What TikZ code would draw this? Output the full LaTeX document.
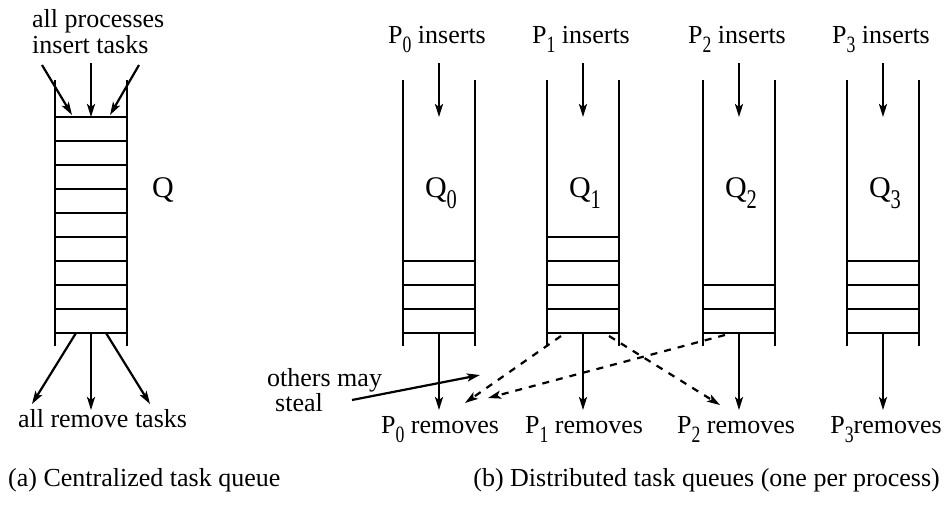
\documentclass[tikz,border=0pt]{standalone}
\usepackage{fontspec}
\setmainfont{Liberation Serif}
\usetikzlibrary{arrows.meta}
\newcommand{\psub}[1]{\raisebox{-0.38em}{\scalebox{0.68}[0.9]{#1}}}
\begin{document}
\begin{tikzpicture}[x=1pt,y=-1pt,
  wall/.style={line width=2.2pt},
  arr/.style={line width=2.2pt,-{Stealth[length=13pt,width=8pt,inset=3pt]}},
  dsh/.style={arr, dash pattern=on 7pt off 7pt},
  lbl/.style={font=\fontsize{26}{26}\selectfont, inner sep=0pt},
  qlbl/.style={font=\fontsize{30}{30}\selectfont, inner sep=0pt}]
\useasboundingbox (0,0) rectangle (949,504);

% ---------- (a) centralized queue ----------
\draw[wall] (55,80) -- (55,346);
\draw[wall] (127,80) -- (127,346);
\foreach \k in {0,...,9} \draw[wall] (55,117+24*\k) -- (127,117+24*\k);

\node[lbl, anchor=base west] (allp) at (32,27) {all processes};
\node[lbl, anchor=base west] (inst) at (32,53) {insert tasks};
\node[qlbl, anchor=base] (Q) at (163,197) {Q};
\node[lbl, anchor=base] (allr) at (102.5,427) {all remove tasks};

\coordinate (ia1) at (42,65);  \coordinate (ib1) at (72,115);
\coordinate (ia2) at (91,63);  \coordinate (ib2) at (91,117);
\coordinate (ia3) at (139,65); \coordinate (ib3) at (110,115);
\draw[arr] (ia1) -- (ib1);
\draw[arr] (ia2) -- (ib2);
\draw[arr] (ia3) -- (ib3);

\coordinate (ra1) at (76,333);  \coordinate (rb1) at (32,404);
\coordinate (ra2) at (91,333);  \coordinate (rb2) at (91,410);
\coordinate (ra3) at (106,333); \coordinate (rb3) at (150,404);
\draw[arr] (ra1) -- (rb1);
\draw[arr] (ra2) -- (rb2);
\draw[arr] (ra3) -- (rb3);

\node[lbl, anchor=base west] (capa) at (8,486) {(a) Centralized task queue};

% ---------- (b) distributed queues ----------
\foreach \L in {403,547,703,847}{
  \draw[wall] (\L,80) -- (\L,346);
  \draw[wall] (\L+72,80) -- (\L+72,346);
}
% cell lines
\foreach \y in {261,285,309,333} \draw[wall] (403,\y) -- (475,\y);
\foreach \y in {237,261,285,309,333} \draw[wall] (547,\y) -- (619,\y);
\foreach \y in {285,309,333} \draw[wall] (703,\y) -- (775,\y);
\foreach \y in {261,285,309,333} \draw[wall] (847,\y) -- (919,\y);

% insert labels and arrows
\node[lbl, anchor=base] (pi0) at (437,43) {P\psub{0} inserts};
\node[lbl, anchor=base] (pi1) at (581,43) {P\psub{1} inserts};
\node[lbl, anchor=base] (pi2) at (737,43) {P\psub{2} inserts};
\node[lbl, anchor=base] (pi3) at (881,43) {P\psub{3} inserts};
\foreach \i/\x in {0/439,1/583,2/739,3/883}{
  \coordinate (ta\i) at (\x,63);
  \coordinate (tb\i) at (\x,117);
  \draw[arr] (ta\i) -- (tb\i);
  \coordinate (sa\i) at (\x,333);
  \coordinate (sb\i) at (\x,410);
  \draw[arr] (sa\i) -- (sb\i);
}

% queue labels
\node[qlbl, anchor=base] (q0) at (441,197) {Q\psub{0}};
\node[qlbl, anchor=base] (q1) at (585,197) {Q\psub{1}};
\node[qlbl, anchor=base] (q2) at (741,197) {Q\psub{2}};
\node[qlbl, anchor=base] (q3) at (885,197) {Q\psub{3}};

% remove labels
\node[lbl, anchor=base] (pr0) at (440,433) {P\psub{0} removes};
\node[lbl, anchor=base] (pr1) at (584,433) {P\psub{1} removes};
\node[lbl, anchor=base] (pr2) at (736,433) {P\psub{2} removes};
\node[lbl, anchor=base] (pr3) at (886,433) {P\psub{3}removes};

% stealing
\coordinate (d1a) at (561,336); \coordinate (d1b) at (465,403);
\coordinate (d2a) at (725,335); \coordinate (d2b) at (488,398);
\coordinate (d3a) at (609,336); \coordinate (d3b) at (720,405);
\draw[dsh] (d1a) -- (d1b);
\draw[dsh] (d2a) -- (d2b);
\draw[dsh] (d3a) -- (d3b);

\node[lbl, anchor=base west] (oth) at (267,386) {others may};
\node[lbl, anchor=base west] (stl) at (275,411) {steal};
\coordinate (sta) at (352,400); \coordinate (stb) at (480,375);
\draw[arr] (sta) -- (stb);

\node[lbl, anchor=base east] (capb) at (940,486) {(b) Distributed task queues (one per process)};
\end{tikzpicture}
\end{document}
